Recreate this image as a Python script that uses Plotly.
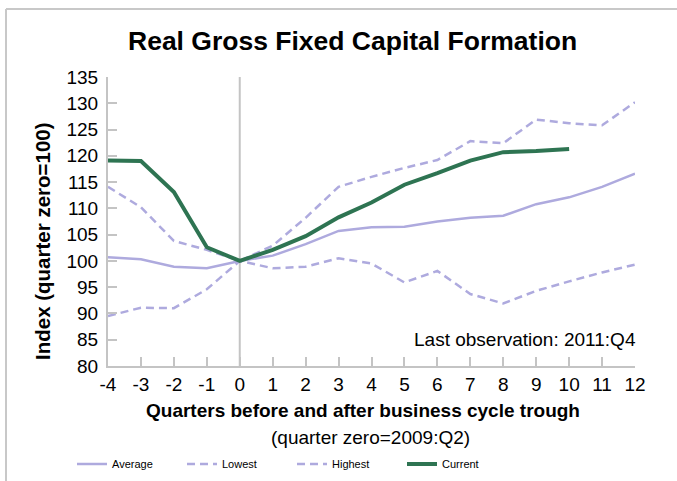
import plotly.graph_objects as go

quarters = list(range(-4, 13))
average = [100.7, 100.3, 98.9, 98.6, 100.0, 101.0, 103.2, 105.7, 106.4, 106.5, 107.5, 108.2, 108.6, 110.8, 112.1, 114.1, 116.6]
lowest = [89.5, 91.1, 91.0, 94.6, 100.0, 98.6, 98.9, 100.5, 99.5, 95.9, 98.1, 93.7, 91.9, 94.3, 96.1, 97.8, 99.3]
highest = [114.1, 110.2, 103.8, 102.1, 100.0, 102.9, 108.2, 114.1, 116.0, 117.7, 119.2, 122.8, 122.4, 126.9, 126.2, 125.8, 130.2]
current_q = list(range(-4, 11))
current = [119.1, 119.0, 113.1, 102.6, 100.0, 102.1, 104.7, 108.3, 111.1, 114.5, 116.7, 119.1, 120.7, 120.9, 121.3]
y_ticks = list(range(80, 136, 5))

LAV = "#aeaade"
GREEN = "#2e7452"
GRAY = "#c4c4c4"
FONT = "Liberation Sans, Arial, sans-serif"

# plot area in pixels
L, R, T, B = 108, 635, 77, 366
W, H = R - L, B - T


def px(x):
    return (x - L) / W


def py(y):
    return (B - y) / H


fig = go.Figure()
fig.add_trace(go.Scatter(x=quarters, y=average, name="Average", mode="lines",
                         line=dict(color=LAV, width=2.5)))
fig.add_trace(go.Scatter(x=quarters, y=lowest, name="Lowest", mode="lines",
                         line=dict(color=LAV, width=2.5, dash="8px,5px")))
fig.add_trace(go.Scatter(x=quarters, y=highest, name="Highest", mode="lines",
                         line=dict(color=LAV, width=2.5, dash="8px,5px")))
fig.add_trace(go.Scatter(x=current_q, y=current, name="Current", mode="lines",
                         line=dict(color=GREEN, width=4)))

# vertical line at quarter zero
fig.add_shape(type="line", x0=0, x1=0, y0=80, y1=135, xref="x", yref="y",
              line=dict(color=GRAY, width=2), layer="below")
# outer border (top and left)
fig.add_shape(type="line", xref="paper", yref="paper", x0=px(6), x1=px(700), y0=py(9), y1=py(9),
              line=dict(color="#c8c8c8", width=2))
fig.add_shape(type="line", xref="paper", yref="paper", x0=px(6), x1=px(6), y0=py(9), y1=py(500),
              line=dict(color="#c8c8c8", width=2))

common = dict(xref="paper", yref="paper", showarrow=False, xanchor="center", yanchor="middle")
fig.add_annotation(text="<b>Real Gross Fixed Capital Formation</b>", x=px(352), y=py(41),
                   font=dict(size=26.5, color="#000", family=FONT), **common)
fig.add_annotation(text="<b>Quarters before and after business cycle trough</b>", x=px(363), y=py(410),
                   font=dict(size=19, color="#000", family=FONT), **common)
fig.add_annotation(text="(quarter zero=2009:Q2)", x=px(370), y=py(437),
                   font=dict(size=19, color="#000", family=FONT), **common)
fig.add_annotation(text="<b>Index (quarter zero=100)</b>", x=px(42), y=py(241), textangle=-90,
                   font=dict(size=20.5, color="#000", family=FONT), **common)
fig.add_annotation(text="Last observation: 2011:Q4", x=12, y=85, xref="x", yref="y",
                   xanchor="right", yanchor="middle", xshift=3, showarrow=False,
                   font=dict(size=19, color="#000", family=FONT))

fig.update_layout(
    width=677, height=481,
    margin=dict(l=L, r=677 - R, t=T, b=481 - B),
    paper_bgcolor="white", plot_bgcolor="white",
    font=dict(family=FONT, color="#000"),
    xaxis=dict(range=[-4, 12], tickmode="array", tickvals=quarters,
               ticktext=[str(q) for q in quarters],
               showgrid=False, zeroline=False, showline=True, linecolor=GRAY, linewidth=2,
               ticks="inside", ticklen=9, tickwidth=2, tickcolor=GRAY,
               tickfont=dict(size=19, family=FONT, color="#000")),
    yaxis=dict(range=[80, 135], tickmode="array", tickvals=y_ticks,
               showgrid=False, zeroline=False, showline=True, linecolor=GRAY, linewidth=2,
               ticks="inside", ticklen=9, tickwidth=2, tickcolor=GRAY, ticklabelstandoff=4,
               tickfont=dict(size=19, family=FONT, color="#000")),
    showlegend=True,
    legend=dict(orientation="h", xref="container", yref="container",
                x=72 / 677, y=1 - 464 / 481, xanchor="left", yanchor="middle",
                entrywidth=65, entrywidthmode="pixels",
                font=dict(size=11, family=FONT, color="#000"), bgcolor="rgba(0,0,0,0)"),
)

fig.write_html("out.html", config={"displayModeBar": False},
               post_script="document.body.style.margin='0px';document.body.style.overflow='hidden';")
